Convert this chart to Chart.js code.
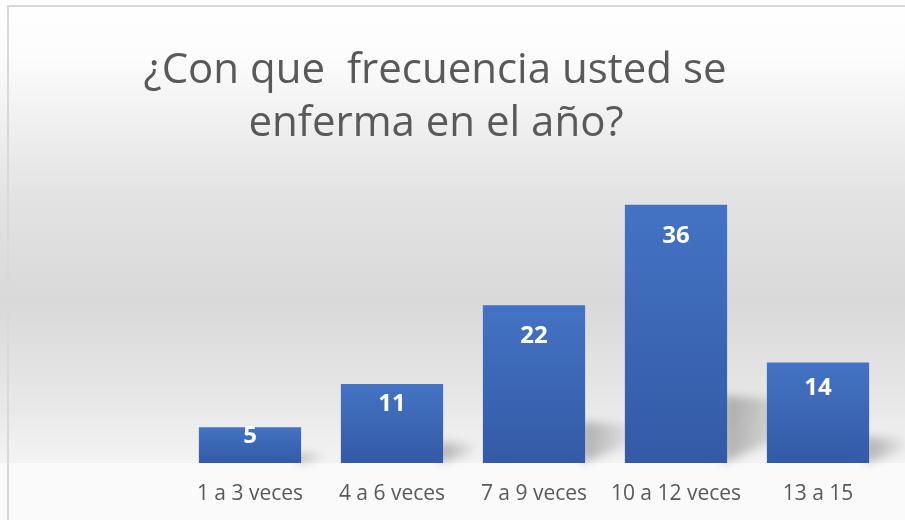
<!DOCTYPE html>
<html lang="es">
<head>
<meta charset="utf-8">
<title>¿Con que frecuencia usted se enferma en el año?</title>
<script src="https://cdn.jsdelivr.net/npm/chart.js@4/dist/chart.umd.min.js"></script>
<style>
  html, body { margin: 0; padding: 0; background: #ffffff; }
  #wrap { width: 905px; height: 520px; position: relative; }
</style>
</head>
<body>
<div id="wrap"><canvas id="chart" width="905" height="520"></canvas></div>
<script>
// --- Data ---
const categories = ["1 a 3 veces", "4 a 6 veces", "7 a 9 veces", "10 a 12 veces", "13 a 15"];
const values = [5, 11, 22, 36, 14];
const titleLines = ["¿Con que  frecuencia usted se", "enferma en el año?"];

const textFont = "'Open Sans', 'Noto Sans', sans-serif";

// --- Plugins ---
const backdrop = {
  id: "backdrop",
  beforeDraw(chart) {
    const { ctx, width, height } = chart;
    const base = chart.chartArea.bottom;
    ctx.save();
    const g = ctx.createLinearGradient(0, 0, 0, base);
    g.addColorStop(0, "#ffffff");
    g.addColorStop(0.12, "#fcfcfc");
    g.addColorStop(0.42, "#e3e3e3");
    g.addColorStop(0.65, "#d9d9d9");
    g.addColorStop(0.85, "#e6e6e6");
    g.addColorStop(1, "#f3f3f3");
    ctx.fillStyle = g;
    ctx.fillRect(0, 0, width, base);
    ctx.fillStyle = "#fafafa";
    ctx.fillRect(0, base, width, height - base);
    // frame
    ctx.strokeStyle = "#d9d9d9";
    ctx.lineWidth = 2;
    ctx.strokeRect(8, 6, width, height);
    ctx.restore();
  }
};

const title = {
  id: "twoLineTitle",
  afterDraw(chart) {
    const { ctx } = chart;
    ctx.save();
    ctx.fillStyle = "#595959";
    ctx.font = "42px " + textFont;
    ctx.textAlign = "center";
    ctx.textBaseline = "alphabetic";
    ctx.fillText(titleLines[0], 435, 83);
    ctx.fillText(titleLines[1], 436, 136);
    ctx.restore();
  }
};

// soft shadow cast up and to the right of each bar
const barShadows = {
  id: "barShadows",
  beforeDatasetsDraw(chart) {
    const { ctx } = chart;
    const meta = chart.getDatasetMeta(0);
    ctx.save();
    ctx.filter = "blur(5px)";
    meta.data.forEach((bar) => {
      const h = bar.base - bar.y;
      const right = bar.x + bar.width / 2;
      const reach = 15 + h * 0.2;
      const g = ctx.createLinearGradient(right, 0, right + reach, 0);
      g.addColorStop(0, "rgba(0,0,0,0.26)");
      g.addColorStop(1, "rgba(0,0,0,0.04)");
      ctx.fillStyle = g;
      ctx.beginPath();
      ctx.moveTo(right - 4, bar.base);
      ctx.lineTo(right - 4, bar.base - h * 0.26);
      ctx.lineTo(right + reach, bar.base - h * 0.24);
      ctx.lineTo(right + reach, bar.base - h * 0.12);
      ctx.closePath();
      ctx.fill();
    });
    ctx.restore();
  }
};

const valueLabels = {
  id: "valueLabels",
  afterDatasetsDraw(chart) {
    const { ctx } = chart;
    const meta = chart.getDatasetMeta(0);
    ctx.save();
    ctx.fillStyle = "#ffffff";
    ctx.font = "bold 24px " + textFont;
    ctx.textAlign = "center";
    ctx.textBaseline = "middle";
    meta.data.forEach((bar, i) => {
      const h = bar.base - bar.y;
      const y = bar.y + Math.min(31, h * 0.25);
      ctx.fillText(String(values[i]), bar.x, y);
    });
    ctx.restore();
  }
};

// --- Chart ---
const ctx = document.getElementById("chart").getContext("2d");
new Chart(ctx, {
  type: "bar",
  data: {
    labels: categories,
    datasets: [
      {
        label: "Frecuencia",
        data: values,
        backgroundColor: (c) => {
          const chart = c.chart;
          const yScale = chart.scales.y;
          if (!yScale || c.raw === undefined) return "#4472c4";
          const top = yScale.getPixelForValue(c.raw);
          const bottom = yScale.getPixelForValue(0);
          if (!isFinite(top) || !isFinite(bottom)) return "#4472c4";
          const g = chart.ctx.createLinearGradient(0, top, 0, bottom);
          g.addColorStop(0, "#4473c5");
          g.addColorStop(1, "#335aa5");
          return g;
        },
        borderWidth: 0,
        categoryPercentage: 0.72,
        barPercentage: 1,
      },
    ],
  },
  options: {
    responsive: false,
    animation: false,
    events: [],
    layout: { padding: { left: 179, right: 16, top: 176, bottom: 0 } },
    plugins: {
      legend: { display: false },
      title: { display: false },
      tooltip: { enabled: false },
    },
    scales: {
      y: { display: false, min: 0, max: 40 },
      x: {
        grid: { display: false, drawTicks: false },
        border: { display: false },
        ticks: {
          color: "#595959",
          font: { family: textFont, size: 21 },
          padding: 18,
          maxRotation: 0,
        },
        afterFit: (scale) => { scale.height = 57; },
      },
    },
  },
  plugins: [backdrop, barShadows, valueLabels, title],
});
</script>
</body>
</html>
